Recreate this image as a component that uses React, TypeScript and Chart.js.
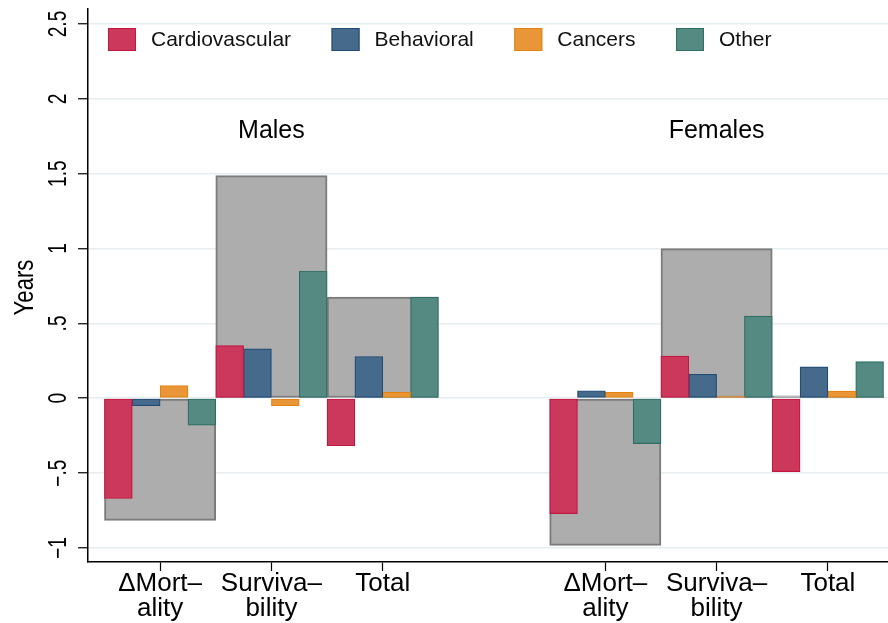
import React, { useEffect, useRef } from 'react';
import { Chart, registerables } from 'chart.js';

Chart.register(...registerables);

// ---- data ----
const categoryPositions = [1, 2, 3, 5, 6, 7];
const categoryLabels: (string | string[])[] = [
  ['ΔMort–', 'ality'],
  ['Surviva–', 'bility'],
  'Total',
  ['ΔMort–', 'ality'],
  ['Surviva–', 'bility'],
  'Total',
];
const seriesNames = ['Cardiovascular', 'Behavioral', 'Cancers', 'Other'];
const cardiovascular = [-0.67, 0.352, -0.317, -0.771, 0.281, -0.49];
const behavioral = [-0.05, 0.33, 0.279, 0.05, 0.16, 0.21];
const cancers = [0.085, -0.05, 0.04, 0.04, 0.013, 0.047];
const other = [-0.18, 0.85, 0.676, -0.303, 0.548, 0.245];
const totals = [-0.816, 1.487, 0.676, -0.983, 0.999, 0.016];
const yTicks = [-1, -0.5, 0, 0.5, 1, 1.5, 2, 2.5];
const yTickLabels = ['−1', '−.5', '0', '.5', '1', '1.5', '2', '2.5'];
const groupNames = ['Males', 'Females'];
const groupLabelX = [2, 6];
const groupLabelY = 1.74;
const yAxisTitle = 'Years';

// ---- styles ----
const FONT = '"Liberation Sans", Arial, Helvetica, sans-serif';
const fills = ['#CC385C', '#466A8C', '#E89638', '#548A82'];
const borders = ['#C4163F', '#1F4B75', '#E3820F', '#2F6E63'];
const totalFill = '#ADADAD';
const totalBorder = '#7B7B7B';

const textPlugin = {
  id: 'customText',
  afterDraw(chart: any) {
    const { ctx, chartArea, scales } = chart;
    const x = scales.x;
    const y = scales.y;
    ctx.save();
    ctx.fillStyle = '#000';

    // y tick labels (rotated)
    ctx.font = `24px ${FONT}`;
    ctx.textAlign = 'center';
    ctx.textBaseline = 'alphabetic';
    yTicks.forEach((v, i) => {
      const py = y.getPixelForValue(v);
      ctx.save();
      ctx.translate(66, py);
      ctx.rotate(-Math.PI / 2);
      ctx.scale(0.8, 1.04);
      ctx.fillText(yTickLabels[i], 0, 0);
      ctx.restore();
    });

    // y axis title
    ctx.font = `27px ${FONT}`;
    ctx.save();
    ctx.translate(33, (chartArea.top + chartArea.bottom) / 2 + 2);
    ctx.rotate(-Math.PI / 2);
    ctx.scale(0.82, 1);
    ctx.fillText(yAxisTitle, 0, 0);
    ctx.restore();

    // group labels
    ctx.font = `25px ${FONT}`;
    ctx.textAlign = 'center';
    groupNames.forEach((name, i) => {
      ctx.fillText(name, x.getPixelForValue(groupLabelX[i]), y.getPixelForValue(groupLabelY));
    });

    // legend inside plot
    ctx.font = `21px ${FONT}`;
    ctx.textAlign = 'left';
    ctx.textBaseline = 'middle';
    let lx = chartArea.left + 20;
    const boxTop = chartArea.top + 19;
    const boxW = 28;
    const boxH = 23;
    seriesNames.forEach((name, i) => {
      ctx.fillStyle = fills[i];
      ctx.fillRect(lx, boxTop, boxW, boxH);
      ctx.strokeStyle = borders[i];
      ctx.lineWidth = 1;
      ctx.strokeRect(lx + 0.5, boxTop + 0.5, boxW - 1, boxH - 1);
      ctx.fillStyle = '#111';
      const tx = lx + 43;
      ctx.fillText(name, tx, boxTop + boxH / 2 + 1);
      lx = tx + ctx.measureText(name).width + 40.5;
    });
    ctx.restore();
  },
};

export default function App() {
  const canvasRef = useRef<HTMLCanvasElement | null>(null);

  useEffect(() => {
    const canvas = canvasRef.current;
    if (!canvas) return;
    const series = [cardiovascular, behavioral, cancers, other];
    const datasets: any[] = series.map((vals, i) => ({
      type: 'bar',
      label: seriesNames[i],
      data: categoryPositions.map((px, j) => ({ x: px, y: vals[j] })),
      backgroundColor: fills[i],
      borderColor: borders[i],
      borderWidth: 1.2,
      borderSkipped: false,
      grouped: true,
      categoryPercentage: 1,
      barPercentage: 1,
    }));
    datasets.push({
      type: 'bar',
      label: 'Total',
      data: categoryPositions.map((px, j) => ({ x: px, y: totals[j] })),
      backgroundColor: totalFill,
      borderColor: totalBorder,
      borderWidth: 2,
      borderSkipped: false,
      grouped: false,
      categoryPercentage: 1,
      barPercentage: 1,
    });

    const chart = new Chart(canvas, {
      type: 'bar',
      data: { datasets },
      options: {
        animation: false,
        responsive: false,
        events: [],
        layout: { padding: { top: 9, right: 0, left: 0, bottom: 0 } },
        plugins: {
          legend: { display: false },
          tooltip: { enabled: false },
        },
        scales: {
          x: {
            type: 'linear',
            min: 0.352,
            max: 7.54,
            offset: false,
            afterFit: (scale: any) => {
              scale.height = 61;
            },
            afterBuildTicks: (scale: any) => {
              scale.ticks = categoryPositions.map((v) => ({ value: v }));
            },
            grid: {
              offset: false,
              drawOnChartArea: false,
              drawTicks: true,
              tickLength: 9,
              tickColor: '#000',
              tickWidth: 1.2,
            },
            border: { display: true, color: '#000', width: 1.5 },
            ticks: {
              autoSkip: false,
              maxRotation: 0,
              minRotation: 0,
              padding: 0,
              color: '#000',
              font: { family: FONT, size: 26, lineHeight: 0.96 },
              callback: (value: any) => {
                const idx = categoryPositions.indexOf(Number(value));
                return idx >= 0 ? categoryLabels[idx] : '';
              },
            },
          },
          y: {
            type: 'linear',
            min: -1.094,
            max: 2.6,
            afterFit: (scale: any) => {
              scale.width = 88;
            },
            afterBuildTicks: (scale: any) => {
              scale.ticks = yTicks.map((v) => ({ value: v }));
            },
            grid: {
              color: '#E6EDF1',
              lineWidth: 1.5,
              drawTicks: true,
              tickLength: 10,
              tickColor: '#000',
              tickWidth: 1.2,
            },
            border: { display: true, color: '#000', width: 1.5 },
            ticks: { display: false },
          },
        },
      },
      plugins: [textPlugin],
    });
    return () => chart.destroy();
  }, []);

  return (
    <div style={{ position: 'absolute', left: 0, top: 0, width: 888, height: 623, background: '#fff' }}>
      <canvas ref={canvasRef} width={888} height={623} style={{ display: 'block' }} />
    </div>
  );
}
